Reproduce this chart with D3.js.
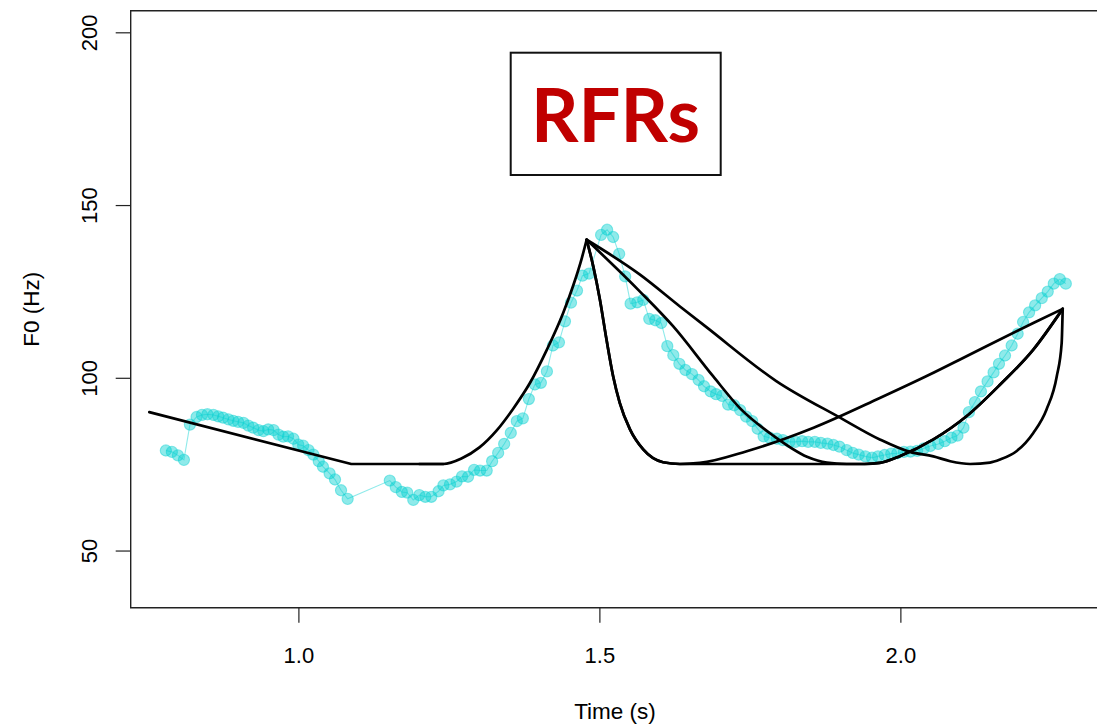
<!DOCTYPE html>
<html><head><meta charset="utf-8">
<script src="https://cdn.jsdelivr.net/npm/d3@7"></script>
<style>html,body{margin:0;padding:0;background:#fff;overflow:hidden}</style>
</head><body><svg id="c" width="1097" height="725"></svg>
<script>
// ---- data ----
const dotTime = [0.779,0.789,0.799,0.809,0.819,0.830,0.839,0.848,0.858,0.866,0.874,0.883,0.891,0.899,0.908,0.916,0.924,0.933,0.941,0.949,0.958,0.966,0.974,0.982,0.991,0.999,1.007,1.016,1.024,1.033,1.040,1.051,1.060,1.070,1.081,
1.151,1.161,1.171,1.180,1.190,1.200,1.210,1.220,1.232,1.240,1.251,1.262,1.271,1.281,1.291,1.301,1.312,1.321,1.331,1.341,1.352,1.362,1.372,1.382,1.392,1.402,1.412,1.422,1.432,1.442,1.452,1.462,1.471,1.482,
1.502,1.512,1.522,1.532,1.542,1.551,1.562,1.572,1.582,1.592,1.602,1.612,1.622,1.632,1.642,1.653,1.664,1.673,1.684,1.693,1.703,1.713,1.723,1.733,1.743,1.753,1.762,1.772,1.782,1.794,1.804,1.815,1.825,1.836,1.846,1.857,1.867,1.878,1.888,1.898,1.910,1.920,1.930,1.941,1.952,1.962,1.973,1.984,1.994,2.005,2.016,2.027,2.038,2.049,2.062,2.073,2.084,2.094,2.104,2.113,2.123,2.133,2.144,2.154,2.163,2.173,2.184,2.194,2.203,2.213,2.223,2.234,2.244,2.254,2.264,2.274];
const dotF0 = [79.1,78.7,77.7,76.4,86.6,88.8,89.4,89.6,89.4,89.0,88.6,88.1,87.7,87.4,87.1,86.3,85.7,85.0,84.7,85.2,85.0,83.7,83.1,83.2,82.5,80.8,80.5,79.2,77.9,76.0,74.4,72.5,70.7,67.6,65.1,
70.4,68.5,67.1,66.9,64.8,66.2,65.7,65.7,67.3,69.0,69.3,70.1,71.6,71.5,73.5,73.3,73.3,76.0,78.4,81.0,84.2,87.6,88.4,94.0,98.2,98.7,102.0,109.5,110.4,116.5,121.9,125.4,129.7,130.3,
141.5,143.0,140.9,136.0,129.5,121.6,122.0,122.7,117.2,116.8,116.0,109.3,106.7,104.2,102.4,101.2,99.5,97.7,96.2,95.4,94.9,92.4,92.2,90.8,88.9,87.6,85.4,83.2,82.8,82.5,82.1,81.6,81.6,81.8,81.6,81.6,81.3,81.1,80.7,80.2,79.2,78.4,77.9,77.4,77.0,77.4,77.8,78.2,78.3,78.7,78.8,79.0,79.7,80.4,81.0,81.8,82.8,83.4,85.7,90.2,93.1,96.2,99.1,101.7,104.2,106.6,109.5,112.9,116.3,119.1,121.1,123.2,125.1,127.4,128.7,127.4];

// model contours (black lines)
const lowLineTime = [0.7515,1.087,1.24];
const lowLineF0   = [90.2,75.2,75.2];
const riseTime = [1.20,1.24,1.27,1.30,1.329,1.356,1.384,1.412,1.439,1.456,1.470,1.478];
const riseF0   = [75.2,75.2,76.8,80.0,85.0,91.2,98.7,108.3,118.9,127.0,134.8,140.1];
const fastFallTime = [1.478,1.489,1.500,1.511,1.522,1.533,1.550,1.572,1.605,1.633];
const fastFallF0   = [140.1,132.4,122.8,111.2,100.6,92.9,85.2,79.4,75.7,75.2];
const gentleRiseTime = [1.666,1.744,1.855,1.965,2.048,2.109,2.220,2.2688];
const gentleRiseF0   = [75.5,78.9,85.7,94.3,101.1,106.4,116.0,120.1];
const midFallTime = [1.478,1.5666,1.6219,1.688,1.733,1.788,1.844,1.877,1.910];
const midFallF0   = [140.1,125.1,115.0,100.6,91.3,83.4,77.3,75.6,75.2];
const lateRiseTime = [1.94,1.965,1.999,2.054,2.109,2.165,2.220,2.2688];
const lateRiseF0   = [75.2,75.5,77.5,82.3,89.0,98.2,108.3,120.1];
const slowFallTime = [1.478,1.5666,1.633,1.677,1.793,1.899,1.965,2.015,2.054,2.082,2.115,2.148,2.165,2.192,2.220,2.242,2.259,2.2671,2.2688];
const slowFallF0   = [140.1,130.0,120.8,114.8,99.2,88.6,82.3,78.7,77.4,76.0,75.2,75.6,76.5,78.9,84.2,91.0,100.6,110.2,120.1];

const xTicks = [1.0,1.5,2.0];
const yTicks = [50,100,150,200];
const xTitle = "Time (s)", yTitle = "F0 (Hz)", boxLabel = "RFRs";

// ---- drawing ----
const svg = d3.select("#c");
const x = d3.scaleLinear().domain([0.7206,2.3263]).range([130.7,1097.3]);
const y = d3.scaleLinear().domain([33.6,206.4]).range([607.7,10.7]);
const pts = (ts, fs) => ts.map((t,i)=>[t,fs[i]]);
const font = "'Liberation Sans', Arial, sans-serif";

const dotCol = "rgba(10,210,210,0.46)";
const dots = pts(dotTime, dotF0);
svg.append("path").datum(dots)
  .attr("d", d3.line().x(d=>x(d[0])).y(d=>y(d[1])))
  .attr("fill","none").attr("stroke",dotCol).attr("stroke-width",1.1);
svg.append("g").selectAll("circle").data(dots).join("circle")
  .attr("cx",d=>x(d[0])).attr("cy",d=>y(d[1])).attr("r",5.6)
  .attr("fill",dotCol).attr("stroke",dotCol).attr("stroke-width",1.1);

const lineL = d3.line().x(d=>x(d[0])).y(d=>y(d[1]));
const lineM = d3.line().x(d=>x(d[0])).y(d=>y(d[1])).curve(d3.curveMonotoneX);
const blk = (p, gen) => svg.append("path").datum(p).attr("d", gen)
  .attr("fill","none").attr("stroke","#000").attr("stroke-width",2.7)
  .attr("stroke-linejoin","round").attr("stroke-linecap","round");

blk(pts(lowLineTime, lowLineF0), lineL);
blk(pts(riseTime, riseF0), lineM);
const fast = pts(fastFallTime, fastFallF0);
blk(fast.concat(pts(gentleRiseTime, gentleRiseF0)), lineM);
blk(fast.concat(pts(lateRiseTime, lateRiseF0)), lineM);
blk(pts(midFallTime, midFallF0).concat(pts(lateRiseTime, lateRiseF0)), lineM);
blk(pts(slowFallTime, slowFallF0), lineM);

// frame
const [x0,x1] = x.range(), [y0,y1] = y.range();
svg.append("path").attr("d",`M${x1+5},${y1}H${x0}V${y0}H${x1+5}`)
  .attr("fill","none").attr("stroke","#222").attr("stroke-width",1.4);

// axes
svg.append("g").selectAll("line").data(xTicks).join("line")
  .attr("x1",d=>x(d)).attr("x2",d=>x(d)).attr("y1",y0).attr("y2",y0+15)
  .attr("stroke","#222").attr("stroke-width",1.2);
svg.append("g").selectAll("text").data(xTicks).join("text")
  .attr("x",d=>x(d)).attr("y",663).attr("text-anchor","middle")
  .attr("font-family",font).attr("font-size",22).attr("fill","#000")
  .text(d=>d3.format(".1f")(d));
svg.append("g").selectAll("line").data(yTicks).join("line")
  .attr("x1",x0-15).attr("x2",x0).attr("y1",d=>y(d)).attr("y2",d=>y(d))
  .attr("stroke","#222").attr("stroke-width",1.2);
svg.append("g").selectAll("text").data(yTicks).join("text")
  .attr("transform",d=>`translate(97,${y(d)}) rotate(-90)`).attr("text-anchor","middle")
  .attr("font-family",font).attr("font-size",22).attr("fill","#000")
  .text(d=>d);

svg.append("text").attr("x",(x0+x1)/2+1).attr("y",719).attr("text-anchor","middle")
  .attr("font-family",font).attr("font-size",22.5).text(xTitle);
svg.append("text").attr("transform",`translate(38.5,${(y0+y1)/2}) rotate(-90)`)
  .attr("text-anchor","middle").attr("font-family",font).attr("font-size",22.5).text(yTitle);

// label box
svg.append("rect").attr("x",510.7).attr("y",52.7).attr("width",210).attr("height",122.3)
  .attr("fill","#fff").attr("stroke","#111").attr("stroke-width",2);
svg.append("text").attr("x",615.5).attr("y",141.7).attr("text-anchor","middle")
  .attr("font-family","Lato, 'Open Sans', sans-serif").attr("font-weight",700)
  .attr("font-size",74).attr("fill","#C00000").text(boxLabel);
</script>
</body></html>
